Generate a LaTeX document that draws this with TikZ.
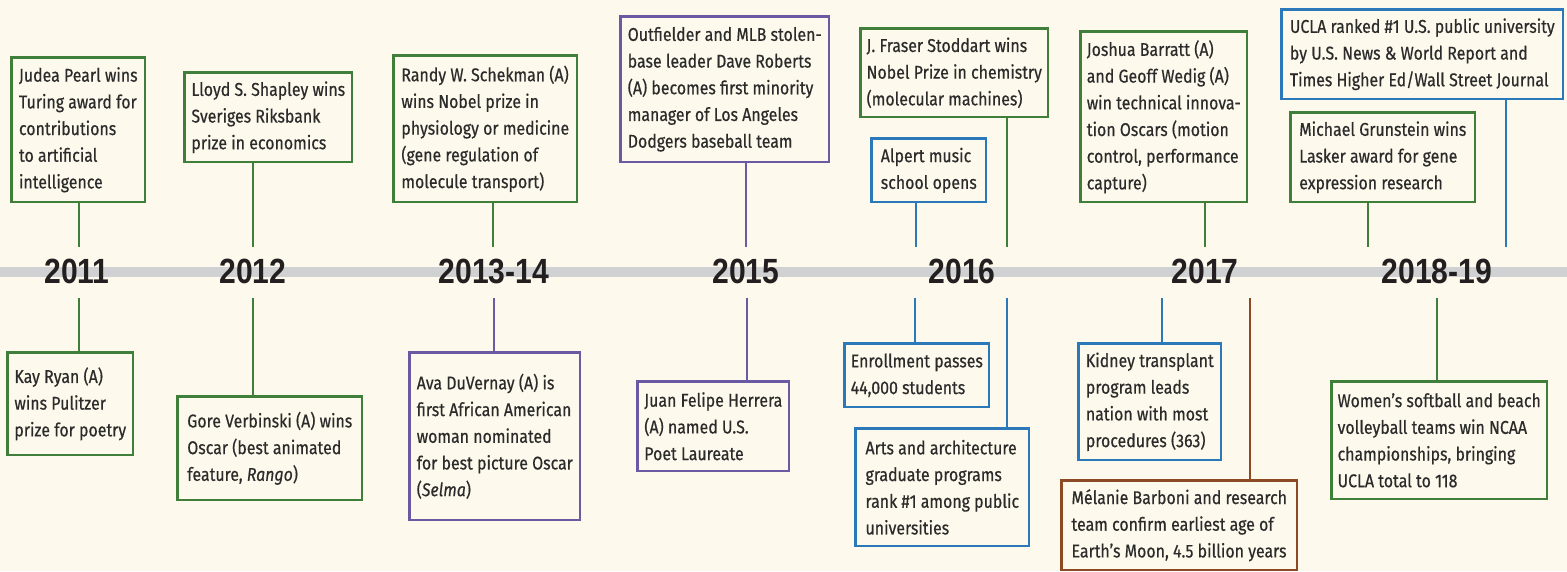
\documentclass[tikz,border=0pt]{standalone}
\usepackage{fontspec}
\usepackage{graphicx}
\newfontfamily\evfont[FakeStretch=0.86,FakeBold=0.5]{Fira Sans}
\newfontfamily\yrfont{Liberation Sans}
\definecolor{bg}{HTML}{FDF9EC}
\definecolor{bar}{HTML}{D0D1D3}
\definecolor{cgreen}{HTML}{3F7F3A}
\definecolor{cblue}{HTML}{2B79B9}
\definecolor{cpurple}{HTML}{6A5AA3}
\definecolor{cbrown}{HTML}{8B4A24}
\definecolor{txt}{HTML}{2B2B2B}
\definecolor{yr}{HTML}{231F20}
\tikzset{
  evbox/.style={draw=#1, line width=2.6pt, fill=bg, anchor=north west,
    inner xsep=6pt, inner ysep=0pt, align=left, text=txt,
    font=\evfont\fontsize{18.5}{26.7}\selectfont},
  conn/.style={draw=#1, line width=2.6pt},
  year/.style={text=yr, inner sep=0pt, font=\yrfont\bfseries\fontsize{35}{35}\selectfont}
}
\newcommand\evnode[7]{%
  \pgfmathsetmacro\evx{#3+1.3}\pgfmathsetmacro\evy{#4+1.3}%
  \pgfmathsetmacro\evw{#5-#3-2.6}\pgfmathsetmacro\evh{#6-#4-2.6}%
  \node[evbox=#2, minimum width=\evw pt, minimum height=\evh pt] (#1) at (\evx,\evy) {#7};}
\newcommand\yrtext[1]{\scalebox{0.86}[1]{#1}}
\begin{document}
\begin{tikzpicture}[x=1pt,y=-1pt]
\useasboundingbox (0,0) rectangle (1567,571);
\fill[bg] (0,0) rectangle (1567,571);
% timeline bar
\fill[bar] (0,267) rectangle (1567,277);
% anchor points on the timeline
\coordinate (u1) at (79,247);   \coordinate (d1) at (79,298);
\coordinate (u2) at (253,247);  \coordinate (d2) at (253,298);
\coordinate (u3) at (493,247);  \coordinate (d3) at (494,298);
\coordinate (u4) at (746,247);  \coordinate (d4) at (747,298);
\coordinate (u5) at (916,247);  \coordinate (d5) at (915,298);
\coordinate (u6) at (1007,247); \coordinate (d6) at (1007,298);
\coordinate (u7) at (1205,247); \coordinate (d7) at (1162,298);
\coordinate (u8) at (1368,247); \coordinate (d8) at (1250,298);
\coordinate (u9) at (1506,247); \coordinate (d9) at (1437,298);
% years
\node[year] (y1) at (77,271) {\yrtext{2011}};
\node[year] (y2) at (253,271) {\yrtext{2012}};
\node[year] (y3) at (494,271) {\yrtext{2013-14}};
\node[year] (y4) at (746,271) {\yrtext{2015}};
\node[year] (y5) at (962,271) {\yrtext{2016}};
\node[year] (y6) at (1205,271) {\yrtext{2017}};
\node[year] (y7) at (1437,271) {\yrtext{2018-19}};
% top boxes
\evnode{a1}{cgreen}{9}{55}{145}{202}{Judea Pearl wins\\Turing award for\\contributions\\to artificial\\intelligence}
\evnode{a2}{cgreen}{182}{70}{352}{162}{Lloyd S. Shapley wins\\Sveriges Riksbank\\prize in economics}
\evnode{a3}{cgreen}{391}{53}{577}{202}{Randy W. Schekman (A)\\wins Nobel prize in\\physiology or medicine\\(gene regulation of\\molecule transport)}
\evnode{a4}{cpurple}{618}{14}{829}{162}{Outfielder and MLB stolen-\\base leader Dave Roberts\\(A) becomes first minority\\manager of Los Angeles\\Dodgers baseball team}
\evnode{a5}{cgreen}{858}{26}{1047}{117}{J. Fraser Stoddart wins\\Nobel Prize in chemistry\\(molecular machines)}
\evnode{a6}{cblue}{869}{136}{986}{202}{Alpert music\\school opens}
\evnode{a7}{cgreen}{1078}{29}{1247}{202}{Joshua Barratt (A)\\and Geoff Wedig (A)\\win technical innova-\\tion Oscars (motion\\control, performance\\capture)}
\evnode{a8}{cgreen}{1288}{110}{1475}{202}{Michael Grunstein wins\\Lasker award for gene\\expression research}
\evnode{a9}{cblue}{1279}{7}{1563}{99}{UCLA ranked \#1 U.S. public university\\by U.S. News \& World Report and\\Times Higher Ed/Wall Street Journal}
% bottom boxes
\evnode{b1}{cgreen}{5}{350}{133}{455}{Kay Ryan (A)\\wins Pulitzer\\prize for poetry}
\evnode{b2}{cgreen}{175}{394}{362}{500}{Gore Verbinski (A) wins\\Oscar (best animated\\feature, \textit{Rango})}
\evnode{b3}{cpurple}{407}{350}{580}{520}{Ava DuVernay (A) is\\first African American\\woman nominated\\for best picture Oscar\\(\textit{Selma})}
\evnode{b4}{cpurple}{635}{379}{789}{471}{Juan Felipe Herrera\\(A) named U.S.\\Poet Laureate}
\evnode{b5}{cblue}{842}{341}{989}{407}{Enrollment passes\\44,000 students}
\evnode{b6}{cblue}{853}{426}{1029}{546}{Arts and architecture\\graduate programs\\rank \#1 among public\\universities}
\evnode{b7}{cblue}{1076}{341}{1221}{460}{Kidney transplant\\program leads\\nation with most\\procedures (363)}
\evnode{b8}{cbrown}{1059}{478}{1297}{570}{Mélanie Barboni and research\\team confirm earliest age of\\Earth’s Moon, 4.5 billion years}
\evnode{b9}{cgreen}{1329}{379}{1545}{499}{Women’s softball and beach\\volleyball teams win NCAA\\championships, bringing\\UCLA total to 118}
% connectors (top)
\draw[conn=cgreen] (a1.south -| u1) -- (u1);
\draw[conn=cgreen] (a2.south -| u2) -- (u2);
\draw[conn=cgreen] (a3.south -| u3) -- (u3);
\draw[conn=cpurple] (a4.south -| u4) -- (u4);
\draw[conn=cblue] (a6.south -| u5) -- (u5);
\draw[conn=cgreen] (a5.south -| u6) -- (u6);
\draw[conn=cgreen] (a7.south -| u7) -- (u7);
\draw[conn=cgreen] (a8.south -| u8) -- (u8);
\draw[conn=cblue] (a9.south -| u9) -- (u9);
% connectors (bottom)
\draw[conn=cgreen] (d1) -- (d1 |- b1.north);
\draw[conn=cgreen] (d2) -- (d2 |- b2.north);
\draw[conn=cpurple] (d3) -- (d3 |- b3.north);
\draw[conn=cpurple] (d4) -- (d4 |- b4.north);
\draw[conn=cblue] (d5) -- (d5 |- b5.north);
\draw[conn=cblue] (d6) -- (d6 |- b6.north);
\draw[conn=cblue] (d7) -- (d7 |- b7.north);
\draw[conn=cbrown] (d8) -- (d8 |- b8.north);
\draw[conn=cgreen] (d9) -- (d9 |- b9.north);
\end{tikzpicture}
\end{document}
